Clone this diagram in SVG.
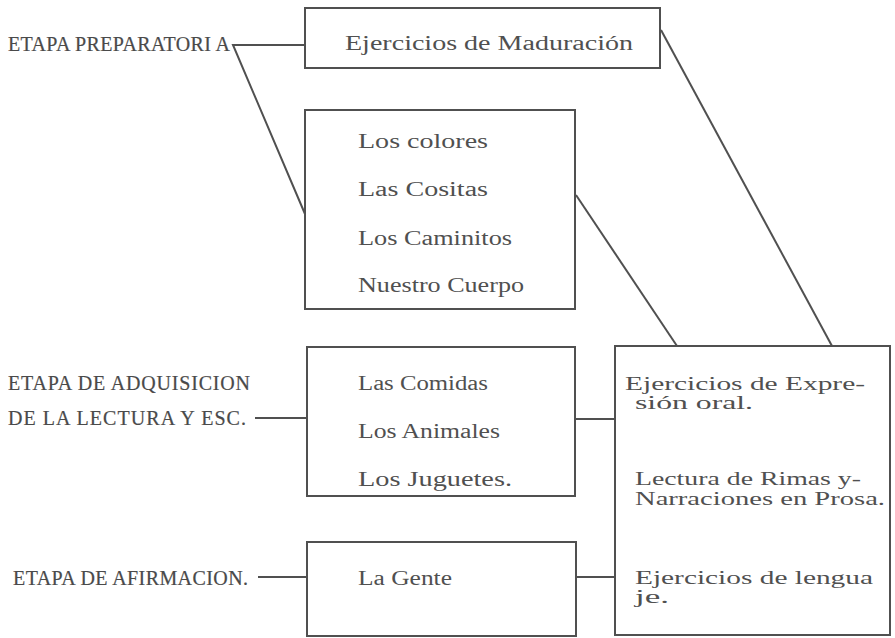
<svg xmlns="http://www.w3.org/2000/svg" width="895" height="638" viewBox="0 0 895 638">
<style>
.box{fill:none;stroke:#505050;stroke-width:2}
.ln{fill:none;stroke:#505050;stroke-width:2}
text{font-family:"Liberation Serif","DejaVu Serif",serif;font-size:20px;fill:#4a4a4a;stroke:#4a4a4a;stroke-width:0.2}
.bx{font-size:20px;stroke-width:0;fill:#505050}
.sm{font-size:19px;stroke-width:0;fill:#505050}
</style>
<rect width="895" height="638" fill="#ffffff"/>
<g id="connectors">
<polyline class="ln" points="305,45 233,45 305,214"/>
<line class="ln" x1="661" y1="30" x2="832" y2="346"/>
<line class="ln" x1="576" y1="195" x2="677" y2="346"/>
<line class="ln" x1="255" y1="418" x2="307" y2="418"/>
<line class="ln" x1="575" y1="419" x2="615" y2="419"/>
<line class="ln" x1="258" y1="577" x2="307" y2="577"/>
<line class="ln" x1="576" y1="577" x2="615" y2="577"/>
</g>
<g id="label-preparatoria">
<text x="8" y="51" textLength="222">ETAPA PREPARATORI A</text>
</g>
<g id="label-adquisicion">
<text x="8" y="390" textLength="242">ETAPA DE ADQUISICION</text>
<text x="8" y="425" textLength="238">DE LA LECTURA Y ESC.</text>
</g>
<g id="label-afirmacion">
<text x="13" y="585" textLength="235">ETAPA DE AFIRMACION.</text>
</g>
<g id="box-maduracion">
<rect class="box" x="305" y="8" width="355" height="60"/>
<text class="bx" x="345" y="50" textLength="288" lengthAdjust="spacingAndGlyphs">Ejercicios de Maduración</text>
</g>
<g id="box-preparatoria">
<rect class="box" x="305" y="110" width="270" height="199"/>
<text class="bx" x="358" y="148" textLength="130" lengthAdjust="spacingAndGlyphs">Los colores</text>
<text class="bx" x="358" y="196" textLength="130" lengthAdjust="spacingAndGlyphs">Las Cositas</text>
<text class="bx" x="358" y="245" textLength="154" lengthAdjust="spacingAndGlyphs">Los Caminitos</text>
<text class="bx" x="358" y="292" textLength="166" lengthAdjust="spacingAndGlyphs">Nuestro Cuerpo</text>
</g>
<g id="box-adquisicion">
<rect class="box" x="307" y="347" width="268" height="149"/>
<text class="bx" x="358" y="390" textLength="130" lengthAdjust="spacingAndGlyphs">Las Comidas</text>
<text class="bx" x="358" y="438" textLength="142" lengthAdjust="spacingAndGlyphs">Los Animales</text>
<text class="bx" x="358" y="486" textLength="154" lengthAdjust="spacingAndGlyphs">Los Juguetes.</text>
</g>
<g id="box-afirmacion">
<rect class="box" x="307" y="542" width="269" height="94"/>
<text class="bx" x="358" y="585" textLength="94" lengthAdjust="spacingAndGlyphs">La Gente</text>
</g>
<g id="box-ejercicios">
<rect class="box" x="615" y="346" width="275" height="289"/>
<text class="sm" x="625" y="390" textLength="240" lengthAdjust="spacingAndGlyphs">Ejercicios de Expre-</text>
<text class="sm" x="635" y="409" textLength="118" lengthAdjust="spacingAndGlyphs">sión oral.</text>
<text class="sm" x="635" y="485" textLength="226" lengthAdjust="spacingAndGlyphs">Lectura de Rimas y-</text>
<text class="sm" x="635" y="505" textLength="250" lengthAdjust="spacingAndGlyphs">Narraciones en Prosa.</text>
<text class="sm" x="635" y="584" textLength="238" lengthAdjust="spacingAndGlyphs">Ejercicios de lengua</text>
<text class="sm" x="635" y="603" textLength="34" lengthAdjust="spacingAndGlyphs">je.</text>
</g>
</svg>
